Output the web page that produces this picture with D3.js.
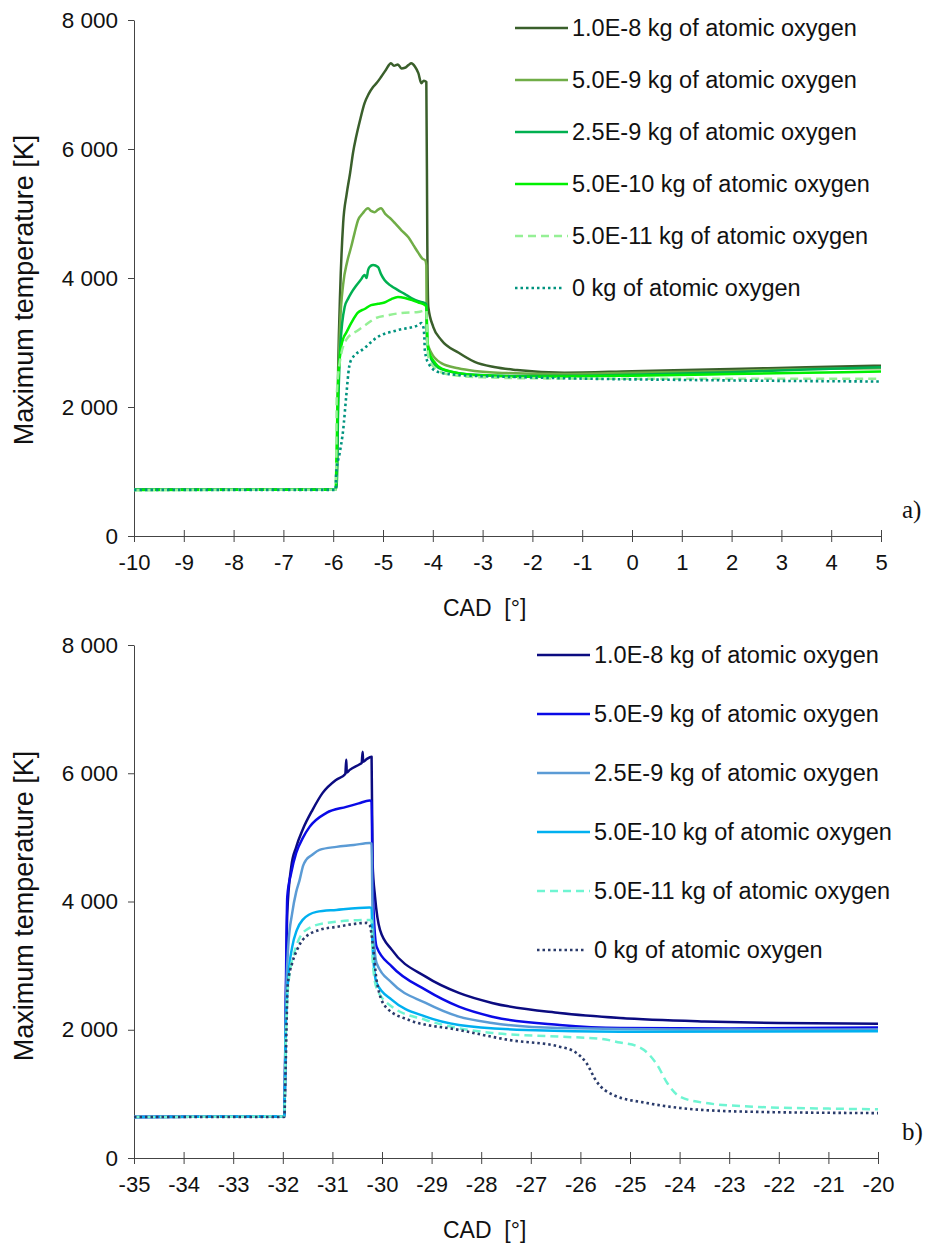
<!DOCTYPE html>
<html>
<head>
<meta charset="utf-8">
<script src="https://cdn.jsdelivr.net/npm/d3@7/dist/d3.min.js"></script>
<style>
body{margin:0;background:#fff;}
text{font-family:"Liberation Sans",Arial,sans-serif;fill:#111;}
.tag{font-family:"Liberation Serif","Times New Roman",serif;}
</style>
</head>
<body>
<svg width="926" height="1247"></svg>
<script>
// legend text, same for both panels
const legendLabels = [
    '1.0E-8 kg of atomic oxygen',
    '5.0E-9 kg of atomic oxygen',
    '2.5E-9 kg of atomic oxygen',
    '5.0E-10 kg of atomic oxygen',
    '5.0E-11 kg of atomic oxygen',
    '0 kg of atomic oxygen'
];

const yTicks = [0, 2000, 4000, 6000, 8000];
const xTicksA = [-10, -9, -8, -7, -6, -5, -4, -3, -2, -1, 0, 1, 2, 3, 4, 5];
const xTicksB = [-35, -34, -33, -32, -31, -30, -29, -28, -27, -26, -25, -24, -23, -22, -21, -20];

// panel a) : [CAD, max temperature K]
const a1e8 = [[-10,720],[-5.95,722],[-5.93,900],[-5.90,2600],[-5.86,3800],[-5.80,4850],[-5.73,5300],[-5.66,5630],[-5.60,5950],[-5.54,6185],[-5.46,6450],[-5.37,6710],[-5.29,6850],[-5.20,6960],[-5.12,7030],[-5.04,7115],[-4.94,7230],[-4.84,7330],[-4.78,7290],[-4.70,7310],[-4.63,7250],[-4.56,7260],[-4.49,7300],[-4.43,7330],[-4.36,7280],[-4.29,7176],[-4.23,7020],[-4.18,7060],[-4.13,7040],[-4.11,4500],[-4.09,3550],[-3.99,3240],[-3.83,3040],[-3.48,2840],[-3.16,2700],[-2.77,2620],[-2.31,2573],[-1.36,2532],[0,2555],[2.0,2588],[3.5,2615],[5,2640]];
const a5e9 = [[-10,720],[-5.95,722],[-5.93,800],[-5.90,2300],[-5.86,3300],[-5.80,3900],[-5.72,4250],[-5.64,4480],[-5.57,4700],[-5.50,4900],[-5.41,5000],[-5.30,5080],[-5.24,5040],[-5.17,5020],[-5.10,5060],[-5.04,5080],[-4.95,4990],[-4.86,4930],[-4.76,4850],[-4.63,4740],[-4.49,4630],[-4.39,4510],[-4.29,4390],[-4.21,4300],[-4.15,4270],[-4.13,4200],[-4.12,3040],[-4.03,2840],[-3.83,2680],[-3.49,2600],[-3.16,2558],[-2.51,2526],[-1.5,2510],[0,2530],[2,2560],[3.5,2590],[5,2600]];
const a25e9 = [[-10,720],[-5.95,722],[-5.93,800],[-5.90,2000],[-5.86,2900],[-5.82,3300],[-5.77,3550],[-5.70,3680],[-5.64,3766],[-5.54,3880],[-5.45,3968],[-5.37,4045],[-5.33,4000],[-5.30,4120],[-5.27,4170],[-5.20,4200],[-5.10,4170],[-5.04,4060],[-4.97,3968],[-4.84,3880],[-4.70,3813],[-4.56,3750],[-4.43,3689],[-4.29,3640],[-4.16,3612],[-4.13,3590],[-4.11,3000],[-4.06,2800],[-3.91,2620],[-3.66,2550],[-3.16,2500],[-2.3,2480],[-1,2485],[0,2500],[2,2540],[3.5,2580],[5,2615]];
const a5e10 = [[-10,715],[-5.95,718],[-5.94,1000],[-5.92,1800],[-5.90,2420],[-5.84,2930],[-5.79,3080],[-5.74,3150],[-5.64,3300],[-5.51,3460],[-5.37,3520],[-5.24,3580],[-5.10,3600],[-4.97,3620],[-4.84,3670],[-4.70,3705],[-4.56,3690],[-4.43,3660],[-4.29,3620],[-4.16,3580],[-4.13,3560],[-4.11,3100],[-4.09,2880],[-3.95,2680],[-3.75,2573],[-3.16,2496],[-2,2470],[-1,2475],[0,2485],[2,2510],[3.5,2530],[5,2550]];
const a5e11 = [[-10,715],[-5.95,718],[-5.94,900],[-5.93,2155],[-5.87,2680],[-5.74,3040],[-5.50,3190],[-5.37,3260],[-5.14,3380],[-4.91,3420],[-4.64,3457],[-4.29,3472],[-4.13,3500],[-4.11,3000],[-4.08,2750],[-3.95,2600],[-3.66,2500],[-3,2460],[-2,2445],[0,2438],[2,2437],[5,2440]];
const a0 = [[-10,715],[-5.95,715],[-5.94,976],[-5.87,1286],[-5.80,1643],[-5.74,2155],[-5.68,2620],[-5.64,2728],[-5.37,2914],[-5.14,3069],[-4.70,3193],[-4.29,3270],[-4.23,3300],[-4.19,3240],[-4.17,3085],[-4.16,2883],[-4.09,2680],[-3.89,2542],[-3.48,2496],[-2.31,2464],[-1,2440],[1,2420],[3,2405],[5,2395]];

// panel b)
const b1e8 = [[-35,640],[-31.97,648],[-31.94,2260],[-31.91,3820],[-31.83,4540],[-31.73,4850],[-31.60,5120],[-31.40,5430],[-31.20,5690],[-30.92,5900],[-30.74,5990],[-30.72,6210],[-30.71,6010],[-30.65,6053],[-30.45,6140],[-30.41,6160],[-30.39,6334],[-30.38,6180],[-30.31,6220],[-30.21,6256],[-30.19,4600],[-30.14,4072],[-30.04,3557],[-29.80,3245],[-29.12,2828],[-28.45,2574],[-27.78,2418],[-26.42,2262],[-25.20,2184],[-23.5,2130],[-22,2105],[-20,2095]];
const b5e9 = [[-35,640],[-31.97,648],[-31.94,2500],[-31.91,4072],[-31.83,4450],[-31.73,4758],[-31.59,5000],[-31.46,5164],[-31.12,5382],[-30.72,5476],[-30.47,5530],[-30.25,5574],[-30.21,5560],[-30.19,4300],[-30.11,3296],[-29.80,2984],[-29.12,2621],[-28.45,2360],[-27.78,2204],[-26.42,2075],[-25.20,2028],[-23,2020],[-20,2035]];
const b25e9 = [[-35,640],[-31.97,648],[-31.94,2300],[-31.89,3300],[-31.81,3822],[-31.73,4150],[-31.66,4337],[-31.59,4560],[-31.53,4649],[-31.42,4720],[-31.26,4805],[-30.92,4852],[-30.57,4880],[-30.25,4914],[-30.21,4900],[-30.19,3800],[-30.11,3042],[-29.80,2730],[-29.12,2418],[-28.45,2204],[-27.78,2106],[-26.42,2028],[-24,2005],[-20,2005]];
const b5e10 = [[-35,640],[-31.97,648],[-31.94,2000],[-31.89,2800],[-31.81,3292],[-31.72,3550],[-31.60,3713],[-31.32,3838],[-30.92,3869],[-30.25,3905],[-30.21,3900],[-30.19,3300],[-30.11,2730],[-29.80,2465],[-29.12,2204],[-28.45,2075],[-27.10,1997],[-25.20,1970],[-20,1975]];
const b5e11 = [[-35,640],[-31.97,648],[-31.94,1800],[-31.89,2700],[-31.77,3198],[-31.53,3557],[-31.12,3666],[-30.25,3713],[-30.21,3700],[-30.19,3100],[-30.11,2650],[-29.80,2360],[-29.12,2153],[-27.78,1950],[-26.42,1892],[-25.6,1860],[-25.2,1800],[-24.85,1740],[-24.65,1640],[-24.45,1450],[-24.25,1170],[-24.0,960],[-23.5,860],[-22.5,800],[-21,770],[-20,760]];
const b0 = [[-35,640],[-31.97,640],[-31.94,1500],[-31.90,2700],[-31.81,3042],[-31.71,3250],[-31.60,3401],[-31.26,3557],[-30.92,3604],[-30.31,3666],[-30.25,3635],[-30.18,3296],[-30.11,2777],[-29.93,2360],[-29.46,2153],[-28.45,1997],[-27.44,1841],[-26.42,1736],[-26.08,1638],[-25.88,1482],[-25.68,1200],[-25.34,983],[-24.66,858],[-23.99,780],[-22.63,722],[-20,700]];

const colorsA = ['#3a5f2b', '#70ad47', '#00b050', '#00f000', '#95f095', '#00937f'];
const colorsB = ['#0b0b80', '#0a0ae6', '#5b9bd5', '#00b0f0', '#6ff5d2', '#2a3b6b'];
const dashes = [null, null, null, null, '8,5', '2.5,3'];

const svg = d3.select('svg');

const drawPanel = (cfg) => {
    const xScale = d3.scaleLinear()
        .domain(d3.extent(cfg.xTicks))
        .range([134, cfg.right]);
    const yScale = d3.scaleLinear()
        .domain([0, 8000])
        .range([cfg.bottom, cfg.top]);

    const g = svg.append('g');

    // y axis
    const yAxisG = g.append('g')
        .attr('transform', 'translate(134,0)')
        .call(d3.axisLeft(yScale)
            .tickValues(yTicks)
            .tickSize(6)
            .tickSizeOuter(0)
            .tickPadding(10)
            .tickFormat(d => d3.format(',')(d).replace(',', ' ')));
    yAxisG.selectAll('text').style('font-size', '22.5px').attr('fill', '#111');
    yAxisG.selectAll('line,path').attr('stroke', '#444');

    // x axis, ticks cross the line
    const xAxisG = g.append('g')
        .attr('transform', `translate(0,${cfg.bottom})`)
        .call(d3.axisBottom(xScale)
            .tickValues(cfg.xTicks)
            .tickSize(6)
            .tickSizeOuter(0)
            .tickPadding(12)
            .tickFormat(d => String(d)));
    xAxisG.selectAll('.tick line').attr('y1', -6);
    xAxisG.selectAll('text').style('font-size', '22px').attr('fill', '#111');
    xAxisG.selectAll('line,path').attr('stroke', '#444');

    g.append('text')
        .attr('transform', `translate(33,${cfg.labelY}) rotate(-90)`)
        .attr('text-anchor', 'middle')
        .style('font-size', '27px')
        .text('Maximum temperature [K]');

    g.append('text')
        .attr('x', 443)
        .attr('y', cfg.bottom + 80)
        .style('font-size', '23px')
        .style('white-space', 'pre')
        .text('CAD  [°]');

    g.append('text')
        .attr('class', 'tag')
        .attr('x', 902)
        .attr('y', cfg.bottom - 18)
        .style('font-size', '25px')
        .text(cfg.tag);

    const line = d3.line()
        .curve(d3.curveMonotoneX)
        .x(d => xScale(d[0]))
        .y(d => yScale(d[1]));

    g.selectAll('path.series')
        .data(cfg.series)
        .enter()
        .append('path')
        .attr('class', 'series')
        .attr('d', line)
        .attr('fill', 'none')
        .attr('stroke', (d, i) => cfg.colors[i])
        .attr('stroke-width', (d, i) => i === 5 ? 2.6 : 2.5)
        .attr('stroke-dasharray', (d, i) => dashes[i])
        .attr('stroke-linejoin', 'round');

    // legend
    const leg = g.selectAll('g.leg')
        .data(legendLabels)
        .enter()
        .append('g')
        .attr('class', 'leg')
        .attr('transform', (d, i) => `translate(${cfg.legX},${cfg.legY + i * cfg.legStep})`);
    leg.append('line')
        .attr('x1', 0)
        .attr('x2', (d, i) => i === 5 ? 48 : 53)
        .attr('y1', 0)
        .attr('y2', 0)
        .attr('stroke', (d, i) => cfg.colors[i])
        .attr('stroke-width', (d, i) => i === 5 ? 2.6 : 2.5)
        .attr('stroke-dasharray', (d, i) => dashes[i]);
    leg.append('text')
        .attr('x', 57)
        .attr('y', 0)
        .attr('dy', '0.36em')
        .style('font-size', '23.5px')
        .text(d => d);
};

drawPanel({
    xTicks: xTicksA, right: 881, top: 20, bottom: 536, labelY: 290,
    series: [a1e8, a5e9, a25e9, a5e10, a5e11, a0], colors: colorsA,
    legX: 515, legY: 28, legStep: 52, tag: 'a)'
});

drawPanel({
    xTicks: xTicksB, right: 878, top: 645, bottom: 1158, labelY: 906,
    series: [b1e8, b5e9, b25e9, b5e10, b5e11, b0], colors: colorsB,
    legX: 537, legY: 655, legStep: 59, tag: 'b)'
});
</script>
</body>
</html>
